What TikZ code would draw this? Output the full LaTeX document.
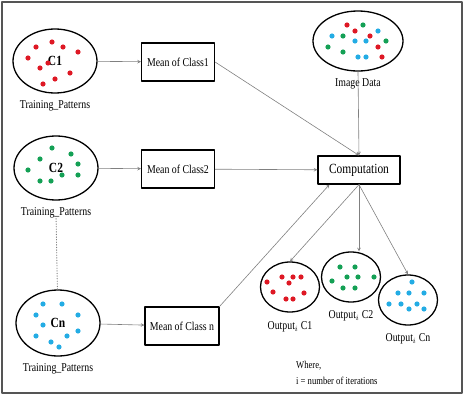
\documentclass[tikz,border=0pt]{standalone}
\usepackage{fontspec}
\setmainfont{Liberation Serif}[FakeStretch=0.82]
\usetikzlibrary{shapes.geometric,positioning}
\definecolor{dotred}{RGB}{222,24,36}
\definecolor{dotgreen}{RGB}{20,160,85}
\definecolor{dotblue}{RGB}{35,172,228}
\definecolor{frame}{RGB}{85,85,85}
\begin{document}
\begin{tikzpicture}[x=1pt, y=-1pt, line cap=round, line join=round, >=stealth, font=\fontsize{12}{13}\selectfont]
	\tikzset{cls/.style={ellipse, draw, line width=1.3pt, minimum width=84pt, minimum height=64pt, inner sep=0pt, font=\fontsize{14}{15}\selectfont\bfseries},
		outcls/.style={ellipse, draw, line width=1.3pt, minimum width=59pt, minimum height=50pt, inner sep=0pt},
		meanbox/.style={rectangle, draw, line width=1.2pt, minimum width=73pt, minimum height=38pt, inner sep=1pt},
		lbl/.style={inner sep=0pt},
		conn/.style={draw=gray, line width=0.6pt}}
	\useasboundingbox (0,0) rectangle (467,402);
	\draw[frame, line width=1.6pt] (2,2) rectangle (462,393);
	\node[cls] (c1) at (55,61) {C1};
	\node[cls] (c2) at (56,168) {C2};
	\node[cls, minimum height=66pt] (cn) at (58,323) {Cn};
	\node[lbl, below=7pt of c1] (t1) {Training\_Patterns};
	\node[lbl, below=7pt of c2] (t2) {Training\_Patterns};
	\node[lbl, below=7pt of cn] (tn) {Training\_Patterns};
	\node[meanbox] (mean1) at (178,62) {Mean of Class1};
	\node[meanbox] (mean2) at (178,169) {Mean of Class2};
	\node[meanbox, minimum width=74pt] (meann) at (182,326) {Mean of Class n};
	\node[cls, minimum width=90pt, minimum height=60pt] (img) at (358,41) {};
	\node[lbl, below=7pt of img] (imgl) {Image Data};
	\node[meanbox, minimum width=82pt, minimum height=28pt, font=\fontsize{14}{15}\selectfont] (comp) at (359,170) {Computation};
	\node[outcls] (out1) at (290,287) {};
	\node[outcls] (out2) at (351,277) {};
	\node[outcls] (outn) at (408,300) {};
	\node[lbl, below=9pt of out1] (o1) {Output$_i$ C1};
	\node[lbl, below=8pt of out2] (o2) {Output$_i$ C2};
	\node[lbl, below=8pt of outn] (on) {Output$_i$ Cn};
	\node[lbl, anchor=west, align=left, font=\fontsize{10.5}{16}\selectfont] (note) at (296,373) {Where,\\i = number of iterations};
	\draw[conn, ->] (c1) -- (mean1);
	\draw[conn, ->] (c2) -- (mean2);
	\draw[conn, ->] (cn) -- (meann);
	\draw[conn, dotted, line width=0.9pt] (t2) -- (cn);
	\draw[conn, ->] (mean1.east) -- (comp.north);
	\draw[conn, ->] (img.south) -- (comp.north);
	\draw[conn, ->] (mean2) -- (comp);
	\draw[conn, ->] (meann.north east) -- ([xshift=12pt]comp.south west);
	\draw[conn, ->] (comp.south) -- (out1.north);
	\draw[conn, ->] (comp.south) -- (comp.south |- out2.north);
	\draw[conn, ->] (comp.south) -- (outn.north);
	\foreach \x/\y in {52/42,36/47,63/47,78/52,28/58,48/63,40/68,70/73,55/79,43/84,
		347/25,355/31,370/36,378/47,382/57,
		267/282,282/277,289/283,293/277,301/277,273/292,304/293,286/299,293/299}
		\fill[dotred] (\x,\y) circle (2.6pt);
	\foreach \x/\y in {52/148,71/154,40/159,78/164,28/170,62/175,78/175,40/181,51/181,
		363/25,343/36,328/47,386/41,343/52,
		340/267,355/267,347/277,358/277,374/277,332/281,343/288,355/288}
		\fill[dotgreen] (\x,\y) circle (2.6pt);
	\foreach \x/\y in {43/304,62/304,36/315,78/315,43/325,78/331,36/336,67/336,51/342,59/347,
		332/36,355/41,366/41,378/31,358/57,366/57,
		412/282,398/293,409/293,424/293,389/304,401/304,417/304,409/309,424/309}
		\fill[dotblue] (\x,\y) circle (2.6pt);
\end{tikzpicture}
\end{document}
